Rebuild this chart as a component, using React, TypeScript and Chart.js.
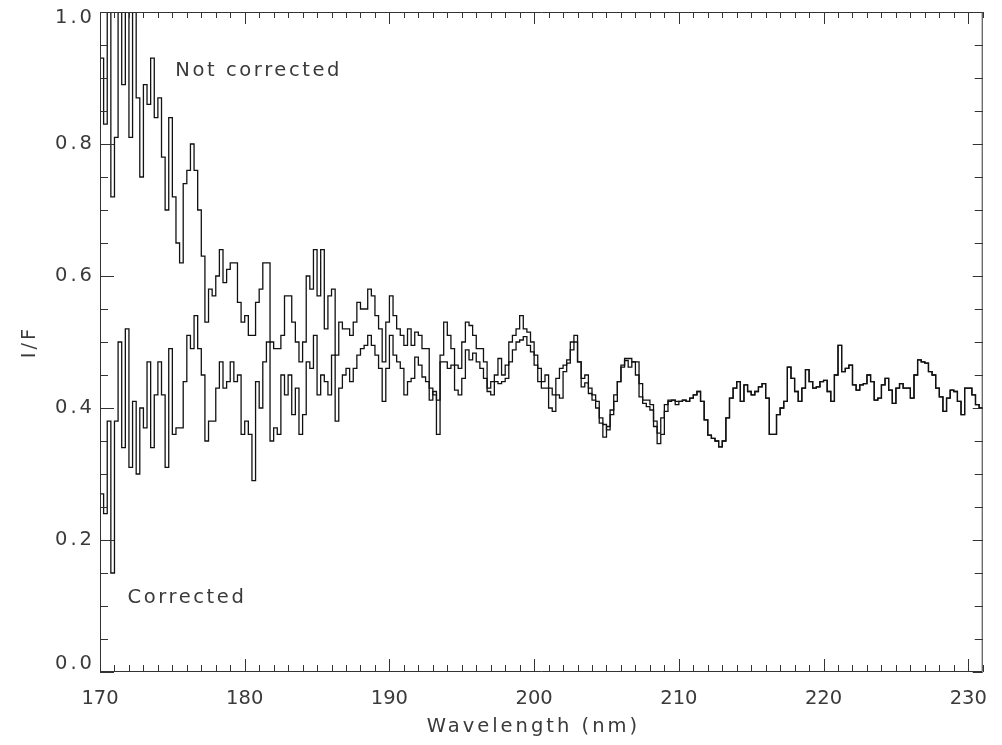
import { useEffect, useRef } from 'react';
import { Chart, registerables } from 'chart.js';

Chart.register(...registerables);

// Wavelength grid (nm): samples every 0.25 nm from 170 to 231
const WL_START = 170;
const WL_STEP = 0.25;
const WL_END = 231;

const X_TICKS = [170, 180, 190, 200, 210, 220, 230];
const Y_TICKS = [0, 0.2, 0.4, 0.6, 0.8, 1.0];

// "Not corrected" I/F, 170.00 – 209.75 nm
const NOT_CORRECTED_HEAD = [
  0.93, 0.83, 1.05, 0.72, 0.81, 1.05, 0.89, 1.05, 0.81, 1.02,
  0.87, 0.75, 0.89, 0.86, 0.93, 0.84, 0.87, 0.78, 0.70, 0.84,
  0.72, 0.65, 0.62, 0.74, 0.76, 0.80, 0.76, 0.70, 0.63, 0.53,
  0.58, 0.57, 0.60, 0.64, 0.59, 0.61, 0.62, 0.62, 0.56, 0.53,
  0.54, 0.51, 0.51, 0.56, 0.58, 0.62, 0.62, 0.50, 0.49, 0.49,
  0.51, 0.57, 0.57, 0.53, 0.50, 0.47, 0.50, 0.60, 0.58, 0.64,
  0.57, 0.64, 0.52, 0.57, 0.58, 0.48, 0.53, 0.52, 0.52, 0.51,
  0.53, 0.56, 0.55, 0.55, 0.58, 0.57, 0.54, 0.52, 0.47, 0.53,
  0.57, 0.54, 0.52, 0.51, 0.495, 0.52, 0.495, 0.515, 0.51, 0.49,
  0.49, 0.43, 0.42, 0.36, 0.48, 0.53, 0.51, 0.49, 0.465, 0.46,
  0.50, 0.53, 0.525, 0.51, 0.49, 0.49, 0.47, 0.43, 0.44, 0.45,
  0.475, 0.45, 0.465, 0.50, 0.51, 0.52, 0.54, 0.52, 0.515, 0.50,
  0.48, 0.46, 0.44, 0.45, 0.43, 0.42, 0.445, 0.46, 0.465, 0.473,
  0.50, 0.51, 0.47, 0.445, 0.45, 0.43, 0.42, 0.41, 0.385, 0.375,
  0.367, 0.39, 0.41, 0.44, 0.465, 0.475, 0.475, 0.47, 0.47, 0.437,
  0.412, 0.412, 0.405, 0.372, 0.362, 0.385, 0.405, 0.412, 0.412, 0.405,
];

// "Corrected" I/F, 170.00 – 209.75 nm
const CORRECTED_HEAD = [
  0.27, 0.24, 0.38, 0.15, 0.38, 0.50, 0.34, 0.52, 0.31, 0.41,
  0.30, 0.40, 0.37, 0.47, 0.34, 0.42, 0.47, 0.42, 0.31, 0.49,
  0.36, 0.37, 0.37, 0.44, 0.51, 0.49, 0.54, 0.49, 0.45, 0.35,
  0.38, 0.38, 0.43, 0.47, 0.43, 0.44, 0.47, 0.44, 0.45, 0.36,
  0.38, 0.36, 0.29, 0.44, 0.40, 0.47, 0.50, 0.35, 0.37, 0.36,
  0.45, 0.42, 0.45, 0.39, 0.43, 0.36, 0.39, 0.47, 0.46, 0.51,
  0.42, 0.45, 0.44, 0.42, 0.48, 0.38, 0.43, 0.45, 0.46, 0.44,
  0.46, 0.48, 0.49, 0.495, 0.51, 0.495, 0.48, 0.46, 0.41, 0.46,
  0.51, 0.48, 0.47, 0.46, 0.42, 0.44, 0.445, 0.477, 0.465, 0.447,
  0.44, 0.412, 0.425, 0.412, 0.47, 0.47, 0.46, 0.465, 0.427, 0.42,
  0.445, 0.488, 0.473, 0.483, 0.47, 0.46, 0.445, 0.425, 0.42, 0.44,
  0.437, 0.44, 0.445, 0.47, 0.488, 0.50, 0.503, 0.508, 0.495, 0.485,
  0.465, 0.44, 0.43, 0.43, 0.40, 0.395, 0.42, 0.415, 0.455, 0.468,
  0.488, 0.50, 0.47, 0.432, 0.438, 0.422, 0.412, 0.40, 0.377, 0.356,
  0.372, 0.397, 0.42, 0.44, 0.462, 0.472, 0.462, 0.47, 0.45, 0.417,
  0.407, 0.402, 0.397, 0.38, 0.346, 0.36, 0.395, 0.41, 0.412, 0.41,
];

// Both spectra coincide from 210.00 – 230.75 nm
const COMMON_TAIL = [
  0.41, 0.412, 0.41, 0.415, 0.42, 0.425, 0.41, 0.382, 0.359, 0.354,
  0.35, 0.341, 0.35, 0.385, 0.415, 0.43, 0.44, 0.41, 0.435, 0.425,
  0.42, 0.425, 0.432, 0.437, 0.415, 0.36, 0.36, 0.39, 0.40, 0.41,
  0.462, 0.445, 0.425, 0.41, 0.43, 0.458, 0.44, 0.43, 0.432, 0.44,
  0.442, 0.425, 0.41, 0.45, 0.495, 0.455, 0.46, 0.465, 0.435, 0.427,
  0.435, 0.437, 0.45, 0.44, 0.412, 0.415, 0.435, 0.445, 0.427, 0.407,
  0.43, 0.437, 0.43, 0.43, 0.415, 0.45, 0.473, 0.47, 0.468, 0.455,
  0.45, 0.43, 0.417, 0.395, 0.415, 0.427, 0.425, 0.41, 0.39, 0.43,
  0.43, 0.42, 0.405, 0.40,
];

const FONT_FAMILY = '"DejaVu Sans", sans-serif';
const TEXT_COLOR = '#3a3a3a';
const FONT_SIZE = 19.5;

function toPoints(values: number[]) {
  const pts = values.map((v, i) => ({ x: WL_START + i * WL_STEP, y: v }));
  pts.push({ x: WL_END, y: values[values.length - 1] });
  return pts;
}

const framePlugin = {
  id: 'idlFrame',
  beforeDraw(chart: any) {
    (chart.ctx as any).letterSpacing = '0px';
  },
  afterDatasetsDraw(chart: any) {
    const { ctx, chartArea: a, scales } = chart;
    const xs = scales.x;
    const ys = scales.y;
    ctx.save();
    ctx.strokeStyle = '#333';
    ctx.lineWidth = 1;
    ctx.beginPath();
    ctx.rect(a.left + 0.5, a.top + 0.5, a.right - a.left - 1, a.bottom - a.top - 1);
    // x ticks every 1 nm, bottom and top
    for (let k = 170; k <= 231; k++) {
      const px = Math.round(xs.getPixelForValue(k)) + 0.5;
      const major = k % 10 === 0;
      ctx.moveTo(px, a.bottom);
      ctx.lineTo(px, a.bottom - (major ? 13 : 7));
      ctx.moveTo(px, a.top);
      ctx.lineTo(px, a.top + (major ? 12 : 6));
    }
    // y ticks every 0.05, left and right
    for (let j = 0; j <= 20; j++) {
      const py = Math.round(ys.getPixelForValue(j * 0.05)) + 0.5;
      const major = j % 4 === 0;
      ctx.moveTo(a.left, py);
      ctx.lineTo(a.left + (major ? 14 : 8), py);
      ctx.moveTo(a.right, py);
      ctx.lineTo(a.right - (major ? 10 : 8), py);
    }
    ctx.stroke();

    ctx.fillStyle = TEXT_COLOR;
    ctx.font = `${FONT_SIZE}px ${FONT_FAMILY}`;
    ctx.textBaseline = 'middle';

    // y tick labels
    (ctx as any).letterSpacing = '3px';
    ctx.textAlign = 'right';
    for (const v of Y_TICKS) {
      let py = ys.getPixelForValue(v);
      py = Math.min(Math.max(py, a.top + 6), a.bottom - 8);
      ctx.fillText(v.toFixed(1), a.left - 5, py);
    }

    // annotations
    (ctx as any).letterSpacing = '2.6px';
    ctx.textAlign = 'left';
    ctx.fillText('Not corrected', xs.getPixelForValue(175.2), ys.getPixelForValue(0.91));
    ctx.fillText('Corrected', xs.getPixelForValue(171.9), ys.getPixelForValue(0.112));

    // axis titles
    (ctx as any).letterSpacing = '3px';
    ctx.textAlign = 'center';
    ctx.fillText('Wavelength (nm)', (a.left + a.right) / 2 - 8, 727);
    ctx.translate(30, (a.top + a.bottom) / 2);
    ctx.rotate(-Math.PI / 2);
    ctx.fillText('I/F', 0, 0);
    ctx.restore();
    (ctx as any).letterSpacing = '0px';
  },
};

export default function App() {
  const canvasRef = useRef<HTMLCanvasElement | null>(null);

  useEffect(() => {
    const canvas = canvasRef.current;
    if (!canvas) return;
    const tickFont = { family: FONT_FAMILY, size: FONT_SIZE };
    const chart = new Chart(canvas, {
      type: 'line',
      data: {
        datasets: [
          {
            label: 'Not corrected',
            data: toPoints([...NOT_CORRECTED_HEAD, ...COMMON_TAIL]),
            stepped: true,
            borderColor: '#111',
            borderWidth: 1.3,
            pointRadius: 0,
            fill: false,
          },
          {
            label: 'Corrected',
            data: toPoints([...CORRECTED_HEAD, ...COMMON_TAIL]),
            stepped: true,
            borderColor: '#111',
            borderWidth: 1.3,
            pointRadius: 0,
            fill: false,
          },
        ],
      },
      options: {
        animation: false,
        responsive: false,
        events: [],
        layout: { padding: { top: 12, right: 8, left: 0, bottom: 0 } },
        plugins: { legend: { display: false }, tooltip: { enabled: false } },
        scales: {
          x: {
            type: 'linear',
            min: WL_START,
            max: WL_END,
            afterBuildTicks: (s: any) => {
              s.ticks = X_TICKS.map((v) => ({ value: v }));
            },
            afterFit: (s: any) => {
              s.height = 73;
            },
            grid: { display: false, drawTicks: false },
            border: { display: false },
            ticks: {
              font: tickFont,
              color: TEXT_COLOR,
              padding: 15,
              maxRotation: 0,
              autoSkip: false,
              callback: (v: any) => String(v),
            },
          },
          y: {
            type: 'linear',
            min: 0,
            max: 1,
            afterBuildTicks: (s: any) => {
              s.ticks = Y_TICKS.map((v) => ({ value: v }));
            },
            afterFit: (s: any) => {
              s.width = 100;
            },
            grid: { display: false, drawTicks: false },
            border: { display: false },
            ticks: { display: false },
          },
        },
      },
      plugins: [framePlugin],
    });
    return () => chart.destroy();
  }, []);

  return (
    <div style={{ position: 'absolute', left: 0, top: 0, width: 1002, height: 745, background: '#fff' }}>
      <canvas ref={canvasRef} width={1002} height={745} />
    </div>
  );
}
